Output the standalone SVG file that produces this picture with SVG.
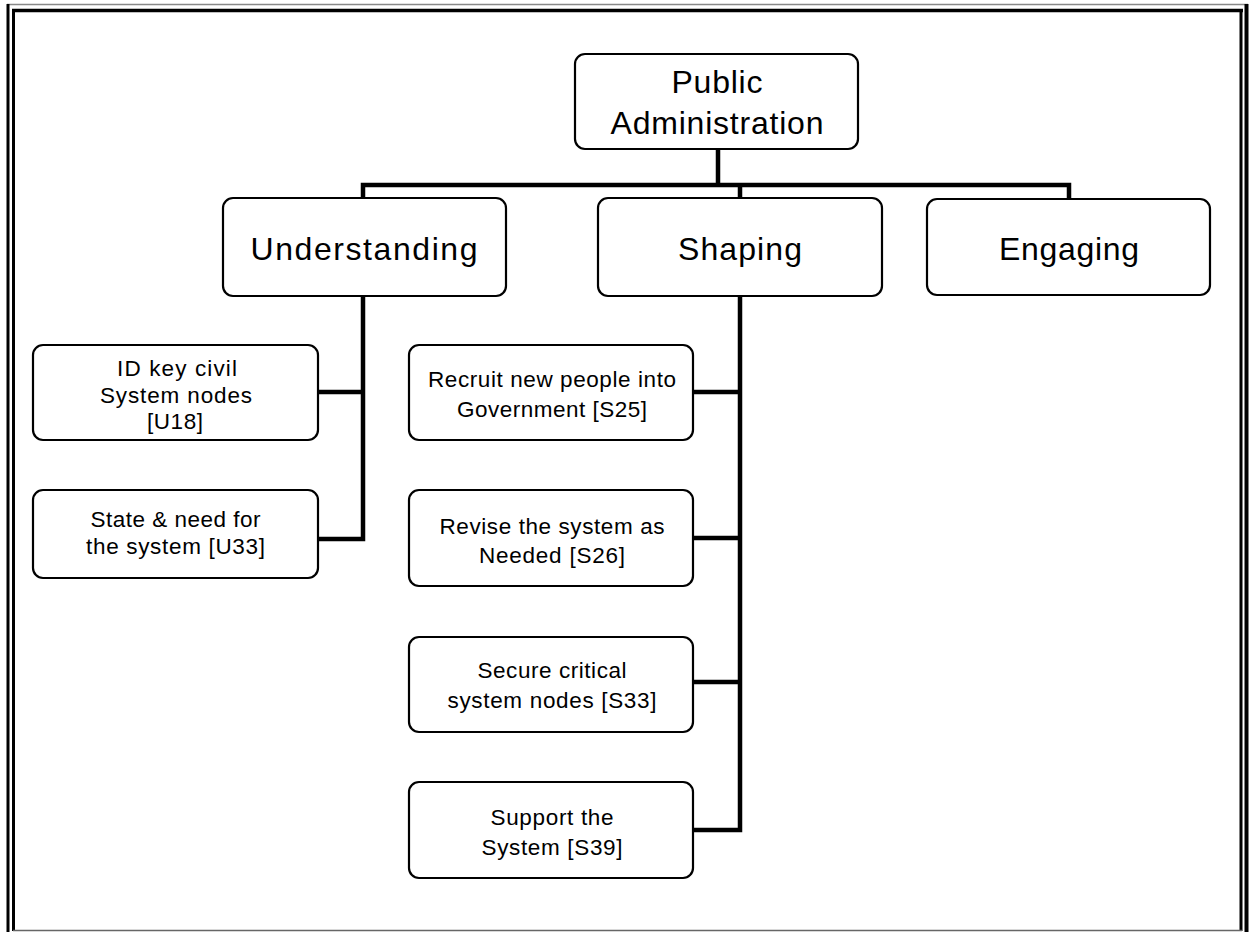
<svg xmlns="http://www.w3.org/2000/svg" width="1249" height="932" viewBox="0 0 1249 932">
<style>
.box{fill:#fff;stroke:#000;stroke-width:2.2}
.big{font-family:"Liberation Sans",Arial,sans-serif;font-size:32px;fill:#000;text-anchor:middle}
.sm{font-family:"Liberation Sans",Arial,sans-serif;font-size:22.5px;fill:#000;text-anchor:middle}
.con{stroke:#000;stroke-width:4.5;fill:none;stroke-linecap:square}
</style>
<rect width="1249" height="932" fill="#fff"/>
<g id="frame">
<line x1="7" y1="4.5" x2="1248" y2="4.5" stroke="#888" stroke-width="1.5"/>
<line x1="8" y1="4" x2="8" y2="932" stroke="#000" stroke-width="3"/>
<line x1="1246.5" y1="4" x2="1246.5" y2="932" stroke="#000" stroke-width="4"/>
<line x1="12" y1="10.5" x2="1243" y2="10.5" stroke="#000" stroke-width="3.5"/>
<line x1="13.5" y1="9" x2="13.5" y2="931" stroke="#000" stroke-width="3"/>
<line x1="1241" y1="9" x2="1241" y2="931" stroke="#000" stroke-width="3"/>
<line x1="13" y1="930.5" x2="1242" y2="930.5" stroke="#666" stroke-width="1.5"/>
</g>
<g id="connectors">
<path class="con" d="M718 149 V185 M363 185 H1069 M363 185 V198 M740 185 V198 M1069 185 V199"/>
<path class="con" d="M363 296 V539 M318 392 H363 M318 539 H363"/>
<path class="con" d="M740 296 V830 M693 392 H740 M693 538 H740 M693 682 H740 M693 830 H740"/>
</g>
<g id="n-public-admin">
<rect class="box" x="575" y="54" width="283" height="95" rx="10"/>
<text class="big" x="717" y="93" textLength="91" lengthAdjust="spacing">Public</text>
<text class="big" x="717" y="134" textLength="213" lengthAdjust="spacing">Administration</text>
</g>
<g id="n-understanding">
<rect class="box" x="223" y="198" width="283" height="98" rx="10"/>
<text class="big" x="364" y="260" textLength="227" lengthAdjust="spacing">Understanding</text>
</g>
<g id="n-shaping">
<rect class="box" x="598" y="198" width="284" height="98" rx="10"/>
<text class="big" x="740" y="260" textLength="124" lengthAdjust="spacing">Shaping</text>
</g>
<g id="n-engaging">
<rect class="box" x="927" y="199" width="283" height="96" rx="10"/>
<text class="big" x="1069" y="260" textLength="140" lengthAdjust="spacing">Engaging</text>
</g>
<g id="n-u18">
<rect class="box" x="33" y="345" width="285" height="95" rx="10"/>
<text class="sm" x="177" y="376" textLength="120" lengthAdjust="spacing">ID key civil</text>
<text class="sm" x="176" y="403" textLength="152" lengthAdjust="spacing">System nodes</text>
<text class="sm" x="175" y="429" textLength="56" lengthAdjust="spacing">[U18]</text>
</g>
<g id="n-u33">
<rect class="box" x="33" y="490" width="285" height="88" rx="10"/>
<text class="sm" x="175.5" y="527" textLength="170" lengthAdjust="spacing">State &amp; need for</text>
<text class="sm" x="175.5" y="554" textLength="179" lengthAdjust="spacing">the system [U33]</text>
</g>
<g id="n-s25">
<rect class="box" x="409" y="345" width="284" height="95" rx="10"/>
<text class="sm" x="552" y="387" textLength="248" lengthAdjust="spacing">Recruit new people into</text>
<text class="sm" x="552" y="417" textLength="190" lengthAdjust="spacing">Government [S25]</text>
</g>
<g id="n-s26">
<rect class="box" x="409" y="490" width="284" height="96" rx="10"/>
<text class="sm" x="552" y="534" textLength="225" lengthAdjust="spacing">Revise the system as</text>
<text class="sm" x="552" y="563" textLength="146" lengthAdjust="spacing">Needed [S26]</text>
</g>
<g id="n-s33">
<rect class="box" x="409" y="637" width="284" height="95" rx="10"/>
<text class="sm" x="552" y="678" textLength="149" lengthAdjust="spacing">Secure critical</text>
<text class="sm" x="552" y="708" textLength="209" lengthAdjust="spacing">system nodes [S33]</text>
</g>
<g id="n-s39">
<rect class="box" x="409" y="782" width="284" height="96" rx="10"/>
<text class="sm" x="552" y="825" textLength="123" lengthAdjust="spacing">Support the</text>
<text class="sm" x="552" y="855" textLength="141" lengthAdjust="spacing">System [S39]</text>
</g>
</svg>
